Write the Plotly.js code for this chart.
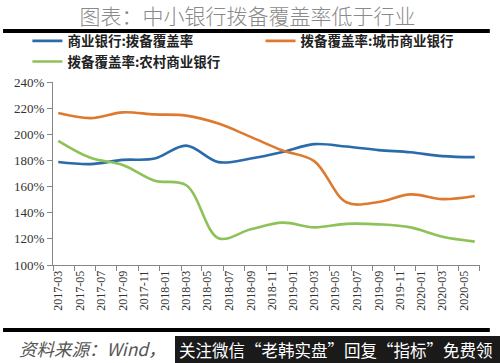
<!DOCTYPE html>
<html>
<head>
<meta charset="utf-8">
<script src="https://cdn.plot.ly/plotly-3.0.1.min.js"></script>
<style>html,body{margin:0;padding:0;background:#fff;}#chart{width:500px;height:363px;}</style>
</head>
<body>
<div id="chart"></div>
<script>
var dates = ['2017-03','2017-06','2017-09','2017-12','2018-03','2018-06','2018-09','2018-12','2019-03','2019-06','2019-09','2019-12','2020-03','2020-06'];
var commercial = [178.8, 177.2, 180.4, 181.4, 191.3, 178.7, 181.5, 186.5, 192.5, 190.6, 187.9, 186.2, 183.3, 182.5];
var cityBanks = [216.3, 212.4, 216.8, 215.2, 214.3, 208.2, 198.0, 187.6, 179.5, 148.0, 148.2, 154.0, 150.4, 152.8];
var ruralBanks = [195.0, 182.0, 176.5, 164.5, 161.0, 120.5, 127.3, 132.4, 128.8, 131.5, 131.1, 128.8, 121.6, 117.9];
var seriesNames = ['商业银行:拨备覆盖率', '拨备覆盖率:城市商业银行', '拨备覆盖率:农村商业银行'];
var yTicks = [100, 120, 140, 160, 180, 200, 220, 240];
var yTickText = ['100%', '120%', '140%', '160%', '180%', '200%', '220%', '240%'];
var titleText = '图表：中小银行拨备覆盖率低于行业';
var sourceText = '资料来源：Wind，';
var watermarkText = '关注微信“老韩实盘”回复“指标”免费领';

var colors = ['#2A6BAA', '#DE7A2F', '#8CC257'];
var legendIds = ['legend', 'legend2', 'legend'];
var allSeries = [commercial, cityBanks, ruralBanks];
var traces = allSeries.map(function (vals, i) {
  return {
    x: dates.map(function (d) { return d + '-01'; }),
    y: vals,
    type: 'scatter',
    mode: 'lines',
    name: seriesNames[i],
    legend: legendIds[i],
    line: { color: colors[i], width: 2.6, shape: 'spline', smoothing: 1 },
    hoverinfo: 'skip'
  };
});

var cjk = 'Noto Sans CJK SC, sans-serif';
var serif = 'Liberation Serif, Times New Roman, serif';
var legendFont = { family: cjk, size: 13.5, color: '#222222', weight: 'bold' };

var layout = {
  width: 500,
  height: 363,
  margin: { l: 53, r: 20, t: 82, b: 98, pad: 0 },
  paper_bgcolor: '#ffffff',
  plot_bgcolor: '#ffffff',
  title: {
    text: titleText,
    font: { family: cjk, size: 21, color: '#8a8a8a', weight: 300 },
    xref: 'container', x: 0.495, xanchor: 'center',
    yref: 'container', y: 0.953, yanchor: 'middle'
  },
  showlegend: true,
  legend: {
    orientation: 'v',
    x: -0.06, xanchor: 'left',
    y: 1.308, yanchor: 'top',
    itemwidth: 30,
    tracegroupgap: 0,
    font: legendFont,
    bgcolor: 'rgba(0,0,0,0)'
  },
  legend2: {
    orientation: 'v',
    x: 0.486, xanchor: 'left',
    y: 1.308, yanchor: 'top',
    itemwidth: 30,
    font: legendFont,
    bgcolor: 'rgba(0,0,0,0)'
  },
  xaxis: {
    type: 'date',
    range: ['2017-02-14', '2020-06-16'],
    tick0: '2017-03-01',
    dtick: 'M2',
    tickformat: '%Y-%m',
    tickangle: -90,
    ticks: '',
    ticklen: 0,
    tickfont: { family: serif, size: 12, color: '#333333' },
    showline: true,
    linecolor: '#868686',
    linewidth: 1,
    showgrid: false,
    zeroline: false,
    minor: { tick0: '2017-02-15', dtick: 'M2', ticks: 'outside', ticklen: 5, tickcolor: '#868686', tickwidth: 1, showgrid: false },
    fixedrange: true
  },
  yaxis: {
    range: [100, 240],
    tickvals: yTicks,
    ticktext: yTickText,
    ticks: 'outside',
    ticklen: 5,
    tickcolor: '#868686',
    tickfont: { family: serif, size: 13, color: '#333333' },
    showline: true,
    linecolor: '#868686',
    linewidth: 1,
    showgrid: false,
    zeroline: false,
    fixedrange: true
  },
  shapes: [
    { type: 'line', xref: 'paper', yref: 'paper', x0: -0.117, x1: 1.023, y0: 1.279, y1: 1.279, line: { color: '#000000', width: 4 } },
    { type: 'line', xref: 'paper', yref: 'paper', x0: -0.117, x1: 1.023, y0: -0.355, y1: -0.355, line: { color: '#000000', width: 4 } },
    { type: 'rect', xref: 'paper', yref: 'paper', x0: 0.2857, x1: 1.06, y0: -0.54, y1: -0.388, fillcolor: '#1a1a1a', line: { width: 0 } }
  ],
  annotations: [
    { text: sourceText, xref: 'paper', yref: 'paper', x: -0.0843, xanchor: 'left', y: -0.4536, yanchor: 'middle', showarrow: false,
      font: { family: cjk, size: 17.5, color: '#555555', style: 'italic' } },
    { text: watermarkText, xref: 'paper', yref: 'paper', x: 0.6628, xanchor: 'center', y: -0.4645, yanchor: 'middle', showarrow: false,
      font: { family: cjk, size: 16.5, color: '#ffffff' } }
  ]
};

Plotly.newPlot('chart', traces, layout, { displayModeBar: false, staticPlot: true });
</script>
</body>
</html>
